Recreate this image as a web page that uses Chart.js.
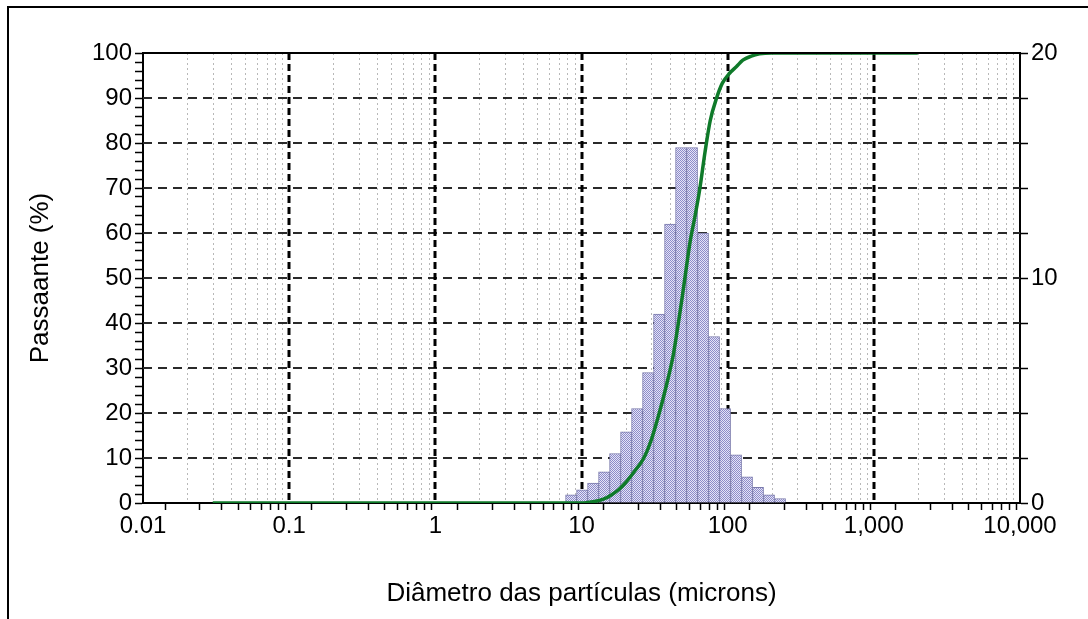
<!DOCTYPE html>
<html>
<head>
<meta charset="utf-8">
<script src="https://cdn.jsdelivr.net/npm/chart.js@4.4.0/dist/chart.umd.min.js"></script>
<style>
  html, body { margin: 0; padding: 0; background: #fff; }
  #wrap { position: relative; width: 1088px; height: 619px; overflow: hidden; }
  #frame { position: absolute; left: 7px; top: 6px; width: 1200px; height: 800px;
           border-left: 2px solid #000; border-top: 2px solid #000; pointer-events: none; }
</style>
</head>
<body>
<div id="wrap">
  <canvas id="psdChart" width="1088" height="619" style="width:1088px;height:619px"></canvas>
  <div id="frame"></div>
</div>
<script>
// bin edges (microns) and % in each bin (right axis)
const binEdges = [7.78, 9.25, 11, 13.08, 15.56, 18.5, 22, 26.16, 31.11, 37, 44, 52.33,
                  62.23, 74, 88, 104.7, 124.5, 148, 176, 209.3, 248.9];
const binPercent = [0.36, 0.58, 0.88, 1.38, 2.2, 3.16, 4.2, 5.8, 8.4, 12.4, 15.8,
                    15.8, 12.0, 7.4, 4.2, 2.14, 1.16, 0.7, 0.36, 0.2];

// cumulative passing curve (left axis)
const curveSize = [0.03, 10, 12, 14, 16, 18, 20, 23, 26.7, 30, 34.7, 38, 42.5, 46, 49, 52,
                   55.3, 60, 64.6, 70, 76, 84, 92, 103, 115, 127, 145, 165, 200, 250, 2000];
const curvePassing = [0, 0, 0.3, 0.8, 1.8, 3, 4.5, 7, 10, 14, 21, 26, 33, 40, 46, 52,
                      58, 64, 70, 78, 85, 90, 93.3, 95.5, 97, 98.4, 99.3, 99.8, 100, 100, 100];

const xDecades = [0.01, 0.1, 1, 10, 100, 1000, 10000];
const xTickLabels = ["0.01", "0.1", "1", "10", "100", "1,000", "10,000"];

const fontFam = "'Liberation Sans', Arial, sans-serif";

function decadeIndex(v) {
  return xDecades.findIndex(d => Math.abs(v - d) / d < 1e-6);
}

// dotted lavender fill like the original bars
function barPattern() {
  const c = document.createElement("canvas");
  c.width = 2; c.height = 2;
  const g = c.getContext("2d");
  g.fillStyle = "#e6e4f6"; g.fillRect(0, 0, 2, 2);
  g.fillStyle = "#8c8cca"; g.fillRect(0, 0, 1, 1); g.fillRect(1, 1, 1, 1);
  return g.createPattern(c, "repeat");
}

const barData = binPercent.map((p, i) => ({ x: Math.sqrt(binEdges[i] * binEdges[i + 1]), y: p }));
const lineData = curveSize.map((s, i) => ({ x: s, y: curvePassing[i] }));

// dashed grid, drawn under the bars
const gridPlugin = {
  id: "psdGrid",
  beforeDatasetsDraw(chart) {
    const { ctx, chartArea: a, scales } = chart;
    const x = scales.x, y = scales.y;
    ctx.save();
    // minor verticals
    ctx.strokeStyle = "#b8b8b8"; ctx.lineWidth = 1; ctx.setLineDash([2, 3]);
    x.ticks.forEach(t => {
      if (decadeIndex(t.value) >= 0) return;
      const px = Math.round(x.getPixelForValue(t.value)) + 0.5;
      ctx.beginPath(); ctx.moveTo(px, a.top); ctx.lineTo(px, a.bottom); ctx.stroke();
    });
    // horizontals every 10
    ctx.strokeStyle = "#2a2a2a"; ctx.lineWidth = 2; ctx.setLineDash([9, 6]);
    for (let v = 10; v < 100; v += 10) {
      const py = Math.round(y.getPixelForValue(v));
      ctx.beginPath(); ctx.moveTo(a.left, py); ctx.lineTo(a.right, py); ctx.stroke();
    }
    // decade verticals
    ctx.strokeStyle = "#000"; ctx.lineWidth = 3; ctx.setLineDash([7, 4]);
    xDecades.slice(1, -1).forEach(d => {
      const px = Math.round(x.getPixelForValue(d));
      ctx.beginPath(); ctx.moveTo(px, a.top); ctx.lineTo(px, a.bottom); ctx.stroke();
    });
    ctx.restore();
  },
  afterDraw(chart) {
    const { ctx, chartArea: a } = chart;
    ctx.save();
    ctx.strokeStyle = "#000"; ctx.lineWidth = 2;
    ctx.beginPath(); ctx.moveTo(a.left, a.top); ctx.lineTo(a.right, a.top); ctx.stroke();
    ctx.restore();
  }
};

new Chart(document.getElementById("psdChart").getContext("2d"), {
  type: "bar",
  data: {
    datasets: [
      {
        type: "line",
        label: "Passante acumulado",
        data: lineData,
        yAxisID: "y",
        borderColor: "#0f7a2a",
        borderWidth: 3.5,
        pointRadius: 0,
        cubicInterpolationMode: "monotone",
        fill: false,
        order: 0
      },
      {
        type: "bar",
        label: "Frequência",
        data: barData,
        yAxisID: "y1",
        backgroundColor: barPattern(),
        borderColor: "#7a7aac",
        borderWidth: 1,
        barThickness: "flex",
        barPercentage: 1,
        categoryPercentage: 1,
        order: 1
      }
    ]
  },
  options: {
    responsive: false,
    animation: false,
    layout: { padding: { top: 53, left: 0, right: 0, bottom: 0 } },
    plugins: { legend: { display: false }, tooltip: { enabled: false } },
    scales: {
      x: {
        type: "logarithmic",
        min: 0.01,
        max: 10000,
        afterBuildTicks(scale) {
          const ticks = [];
          for (let e = -2; e < 4; e++) {
            for (let k = 1; k < 10; k++) ticks.push({ value: +(k * Math.pow(10, e)).toPrecision(6) });
          }
          ticks.push({ value: 10000 });
          scale.ticks = ticks;
        },
        afterFit(scale) { scale.height = 116; },
        grid: { drawOnChartArea: false, tickLength: 7, tickColor: "#000", tickWidth: 1.5 },
        border: { color: "#000", width: 2 },
        ticks: {
          autoSkip: false,
          maxRotation: 0,
          padding: 2,
          color: "#000",
          font: { family: fontFam, size: 24 },
          callback(v) {
            const i = decadeIndex(v);
            return i >= 0 ? xTickLabels[i] : "";
          }
        },
        title: {
          display: true,
          text: "Diâmetro das partículas (microns)",
          color: "#000",
          font: { family: fontFam, size: 26 },
          padding: { top: 0, bottom: 10 }
        }
      },
      y: {
        position: "left",
        min: 0,
        max: 100,
        afterFit(scale) { scale.width = 143; },
        grid: { drawOnChartArea: false, tickLength: 8, tickColor: "#000", tickWidth: 1.5 },
        border: { color: "#000", width: 2 },
        ticks: {
          stepSize: 2,
          maxTicksLimit: 60,
          autoSkip: false,
          padding: 3,
          color: "#000",
          font: { family: fontFam, size: 24 },
          callback(v) { return v % 10 === 0 ? String(v) : ""; }
        },
        title: {
          display: true,
          text: "Passaante (%)",
          color: "#000",
          font: { family: fontFam, size: 26 },
          padding: { top: 25, bottom: 0 }
        }
      },
      y1: {
        position: "right",
        min: 0,
        max: 20,
        afterFit(scale) { scale.width = 68; },
        grid: { drawOnChartArea: false, tickLength: 8, tickColor: "#000", tickWidth: 1.5 },
        border: { color: "#000", width: 2 },
        ticks: {
          stepSize: 2,
          autoSkip: false,
          padding: 3,
          color: "#000",
          font: { family: fontFam, size: 24 },
          callback(v) { return v % 10 === 0 ? String(v) : ""; }
        }
      }
    }
  },
  plugins: [gridPlugin]
});
</script>
</body>
</html>
